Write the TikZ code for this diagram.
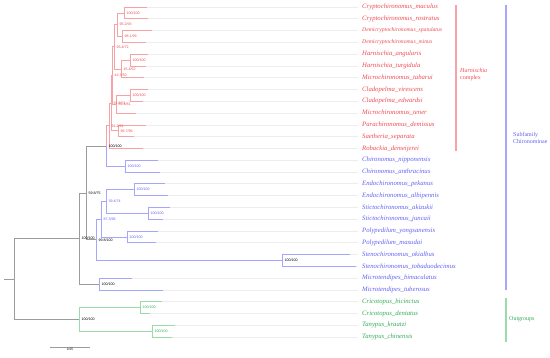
\documentclass[tikz,border=0pt]{standalone}
\usepackage{fontspec}
\setmainfont{Liberation Serif}
\setsansfont{Liberation Sans}
\usetikzlibrary{calc}
\definecolor{harnred}{HTML}{EE4B52}
\definecolor{harnline}{HTML}{F7A3A6}
\definecolor{chirblue}{HTML}{6262F2}
\definecolor{chirline}{HTML}{A6A6FA}
\definecolor{outgreen}{HTML}{35AA58}
\definecolor{outline}{HTML}{9BDAAB}
\definecolor{stem}{HTML}{9C9C9C}
\definecolor{leadgray}{HTML}{EDEDED}
\tikzset{
  branch/.style={draw=#1, line width=0.6pt},
  branch/.default=stem,
  leader/.style={draw=leadgray, line width=0.6pt, shorten >=4pt},
  tiplabel/.style={anchor=west, inner sep=0pt, text=#1,
    font=\fontsize{6.7}{7}\selectfont\itshape},
  support/.style={anchor=west, inner sep=0pt, xshift=2.5pt, text=#1,
    font=\fontsize{3.6}{4}\selectfont\sffamily},
  support/.default=black,
  cladebar/.style={draw=#1, line width=1.3pt},
  cladetext/.style={anchor=west, align=left, text=#1, inner sep=0pt,
    font=\fontsize{6}{7}\selectfont},
}
% internal node at x=#2, halfway (in y) between #3 and #4
\newcommand{\treenode}[4]{%
  \path (#3) -- coordinate (#1-mid) (#4);
  \coordinate (#1) at (#2,0 |- #1-mid);}
\newcommand{\smalltip}{\fontsize{5.7}{7}\selectfont}

\begin{document}
\begin{tikzpicture}[x=1pt, y=-1pt]
  \useasboundingbox (0,0) rectangle (550,358);
  % tips: labels, branch ends and leader lines
  \foreach \i/\taxon/\col/\xe in {
      1/Cryptochironomus\_maculus/harnred/147,
      2/Cryptochironomus\_rostratus/harnred/148,
      3/{\smalltip Demicryptochironomus\_spatulatus}/harnred/152,
      4/{\smalltip Demicryptochironomus\_minus}/harnred/146,
      5/Harnischia\_angularis/harnred/148,
      6/Harnischia\_turgidula/harnred/146,
      7/Microchironomus\_tabarui/harnred/144,
      8/Cladopelma\_virescens/harnred/148,
      9/Cladopelma\_edwardsi/harnred/143,
      10/Microchironomus\_tener/harnred/136,
      11/Parachironomus\_demissus/harnred/146,
      12/Saetheria\_separata/harnred/134,
      13/Robackia\_demeijerei/harnred/143,
      14/Chironomus\_nipponensis/chirblue/158,
      15/Chironomus\_anthracinus/chirblue/160,
      16/Endochironomus\_pekanus/chirblue/165,
      17/Endochironomus\_albipennis/chirblue/168,
      18/Stictochironomus\_akizukii/chirblue/170,
      19/Stictochironomus\_juncaii/chirblue/163,
      20/Polypedilum\_yongsanensis/chirblue/158,
      21/Polypedilum\_masudai/chirblue/156,
      22/Stenochironomus\_okialbus/chirblue/350,
      23/Stenochironomus\_tobaduodecimus/chirblue/356,
      24/Microtendipes\_bimaculatus/chirblue/132,
      25/Microtendipes\_tuberosus/chirblue/163,
      26/Cricotopus\_bicinctus/outgreen/162,
      27/Cricotopus\_dentatus/outgreen/150,
      28/Tanypus\_kraatzi/outgreen/175,
      29/Tanypus\_chinensis/outgreen/172} {
    \node[tiplabel=\col] (t\i) at (362,{7+(\i-1)*11.786}) {\taxon};
    \coordinate (e\i) at (\xe,{7+(\i-1)*11.786});
    \draw[leader] (e\i) -- (t\i.west);
  }

  % Harnischia complex
  \treenode{crypto}{124}{e1}{e2}
  \treenode{demi}{122}{e3}{e4}
  \treenode{hA}{117}{crypto}{demi}
  \treenode{harn}{130}{e5}{e6}
  \treenode{hB}{121}{harn}{e7}
  \treenode{hC}{114}{hA}{hB}
  \treenode{clad}{130}{e8}{e9}
  \treenode{hD}{116}{clad}{e10}
  \treenode{hE}{112}{hC}{hD}
  \treenode{para}{118}{e11}{e12}
  \treenode{hF}{111}{hE}{para}
  \treenode{harnroot}{109}{hF}{e13}
  % rest of Chironominae
  \treenode{chir}{125}{e14}{e15}
  \treenode{cladeA}{106}{harnroot}{chir}
  \treenode{endo}{134}{e16}{e17}
  \treenode{stict}{148}{e18}{e19}
  \treenode{bA}{106}{endo}{stict}
  \treenode{poly}{127}{e20}{e21}
  \treenode{bB}{101}{bA}{poly}
  \treenode{steno}{282}{e22}{e23}
  \treenode{cladeB}{96}{bB}{steno}
  \treenode{pair}{86}{cladeA}{cladeB}
  \treenode{mtend}{99}{e24}{e25}
  \treenode{chironominae}{79}{pair}{mtend}
  % outgroups and root
  \treenode{cric}{140}{e26}{e27}
  \treenode{tany}{152}{e28}{e29}
  \treenode{outgr}{79}{cric}{tany}
  \treenode{root}{14}{chironominae}{outgr}
  \coordinate (base) at (4,0 |- root);

  \draw[branch=harnline] (crypto) |- (e1) (crypto) |- (e2) (demi) |- (e3) (demi) |- (e4);
  \draw[branch=harnline] (hA) |- (crypto) (hA) |- (demi) (harn) |- (e5) (harn) |- (e6);
  \draw[branch=harnline] (hB) |- (harn) (hB) |- (e7) (hC) |- (hA) (hC) |- (hB);
  \draw[branch=harnline] (clad) |- (e8) (clad) |- (e9) (hD) |- (clad) (hD) |- (e10);
  \draw[branch=harnline] (hE) |- (hC) (hE) |- (hD) (para) |- (e11) (para) |- (e12);
  \draw[branch=harnline] (hF) |- (hE) (hF) |- (para) (harnroot) |- (hF) (harnroot) |- (e13);
  \draw[branch=harnline] (cladeA) |- (harnroot);
  \draw[branch=chirline] (cladeA) |- (chir) (chir) |- (e14) (chir) |- (e15);
  \draw[branch=chirline] (endo) |- (e16) (endo) |- (e17) (stict) |- (e18) (stict) |- (e19);
  \draw[branch=chirline] (bA) |- (endo) (bA) |- (stict) (poly) |- (e20) (poly) |- (e21);
  \draw[branch=chirline] (bB) |- (bA) (bB) |- (poly) (steno) |- (e22) (steno) |- (e23);
  \draw[branch=chirline] (cladeB) |- (bB) (cladeB) |- (steno) (mtend) |- (e24) (mtend) |- (e25);
  \draw[branch=outline] (cric) |- (e26) (cric) |- (e27) (tany) |- (e28) (tany) |- (e29);
  \draw[branch=outline] (outgr) |- (cric) (outgr) |- (tany);
  \draw[branch] (pair) |- (cladeA) (pair) |- (cladeB);
  \draw[branch] (chironominae) |- (pair) (chironominae) |- (mtend);
  \draw[branch] (root) |- (chironominae) (root) |- (outgr) (base) -- (root);

  % support values
  \node[support=harnred] at (crypto) {100/100};
  \node[support=harnred] at (demi) {98.1/99};
  \node[support=harnred] at (hA) {95.2/93};
  \node[support=harnred] at (harn) {100/100};
  \node[support=harnred] at (hB) {45.4/62};
  \node[support=harnred] at (hC) {93.4/72};
  \node[support=harnred] at (clad) {100/100};
  \node[support=harnred] at (hD) {81.6/81};
  \node[support=harnred] at (hE) {42.3/30};
  \node[support=harnred] at (para) {96.7/96};
  \node[support=harnred] at (hF) {91.9/71};
  \node[support=harnred] at (harnroot) {91.2/61};
  \node[support] at (cladeA) {100/100};
  \node[support=chirblue] at (chir) {100/100};
  \node[support=chirblue] at (endo) {100/100};
  \node[support=chirblue] at (stict) {100/100};
  \node[support=chirblue] at (bA) {39.4/74};
  \node[support=chirblue] at (poly) {100/100};
  \node[support=chirblue] at (bB) {87.3/96};
  \node[support] at (steno) {100/100};
  \node[support] at (cladeB) {99.8/100};
  \node[support] at (pair) {59.8/75};
  \node[support] at (mtend) {100/100};
  \node[support] at (chironominae) {100/100};
  \node[support=outgreen] at (cric) {100/100};
  \node[support=outgreen] at (tany) {100/100};
  \node[support] at (outgr) {100/100};

  % clade bars
  \coordinate (hbarTop) at (456,5);
  \coordinate (hbarBot) at (456,151);
  \coordinate (sbarTop) at (506,5);
  \coordinate (sbarBot) at (506,290);
  \coordinate (obarTop) at (506,298);
  \coordinate (obarBot) at (506,342);
  \draw[cladebar=harnline] (hbarTop) -- (hbarBot);
  \draw[cladebar=chirline] (sbarTop) -- (sbarBot);
  \draw[cladebar=outline] (obarTop) -- (obarBot);
  \node[cladetext=harnred] (harnlab) at (460,75) {\textit{Harnischia}\\complex};
  \node[cladetext=chirblue] (sublab) at (513,138) {Subfamily\\Chironominae};
  \node[cladetext=outgreen] (outlab) at (509,319) {Outgroups};

  % scale bar
  \coordinate (sbL) at (50,347);
  \coordinate (sbR) at (90,347);
  \draw[branch, line width=0.5pt] (sbL) -- (sbR)
    node[midway, below=1pt, inner sep=0pt, font=\fontsize{3.2}{4}\selectfont\sffamily] (sblab) {0.05};
\end{tikzpicture}
\end{document}
